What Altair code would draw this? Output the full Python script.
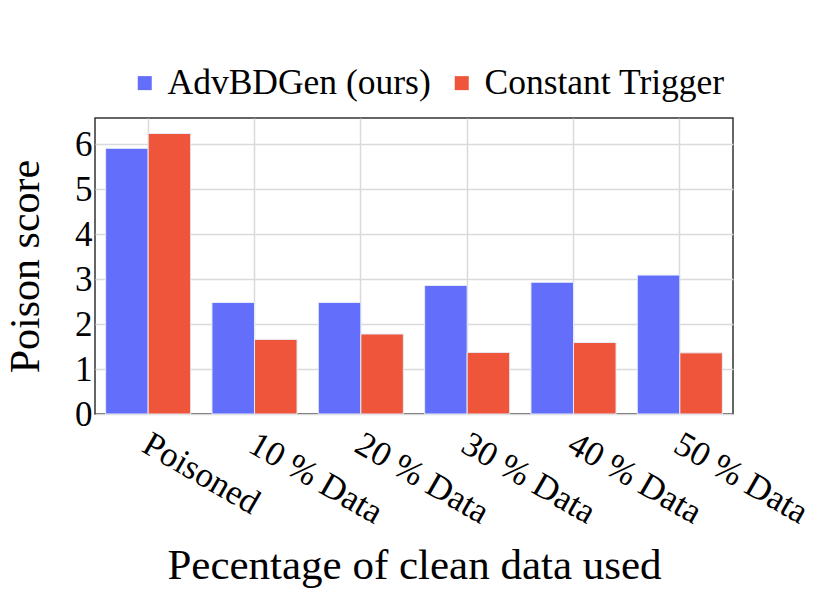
import altair as alt
import pandas as pd

categories = ["Poisoned", "10 % Data", "20 % Data", "30 % Data", "40 % Data", "50 % Data"]
series_names = ["AdvBDGen (ours)", "Constant Trigger"]
advbdgen = [5.91, 2.48, 2.48, 2.86, 2.93, 3.09]
constant = [6.24, 1.66, 1.78, 1.37, 1.59, 1.36]
colors = ["#636EFA", "#EF553B"]
y_ticks = [0, 1, 2, 3, 4, 5, 6]

rows = []
for i, c in enumerate(categories):
    rows.append({"cat": c, "method": series_names[0], "value": advbdgen[i]})
    rows.append({"cat": c, "method": series_names[1], "value": constant[i]})
df = pd.DataFrame(rows)

FONT = "Liberation Serif"

chart = alt.Chart(df).mark_bar(stroke="#E5ECF6", strokeWidth=1).encode(
    x=alt.X("cat:N", sort=categories,
            scale=alt.Scale(paddingInner=0.2, paddingOuter=0.1),
            axis=alt.Axis(title="Pecentage of clean data used", labelAngle=30,
                          labelAlign="left", labelBaseline="top", labelPadding=12,
                          labelOffset=6,
                          labelFontSize=35, labelFont=FONT, labelColor="#000",
                          titleFontSize=43, titleFont=FONT, titleFontWeight="normal",
                          titleColor="#000", titleX=319, titleY=164,
                          titleBaseline="alphabetic", titleAlign="center",
                          ticks=False, domain=False, grid=True,
                          gridColor="#dadada", gridWidth=1.5)),
    xOffset=alt.XOffset("method:N", sort=series_names,
                        scale=alt.Scale(paddingInner=0, paddingOuter=0)),
    y=alt.Y("value:Q", scale=alt.Scale(domain=[0, 6.585], nice=False),
            axis=alt.Axis(title="Poison score", values=y_ticks, format="d",
                          labelFontSize=35, labelFont=FONT, labelColor="#000",
                          labelPadding=3, ticks=False, domain=False,
                          titleFontSize=42, titleFont=FONT, titleFontWeight="normal",
                          titleColor="#000", titleX=-57, titleY=148, titleAngle=-90,
                          titleBaseline="alphabetic", titleAlign="center",
                          gridColor="#dadada", gridWidth=1.5)),
    color=alt.Color("method:N", sort=series_names,
                    scale=alt.Scale(domain=series_names, range=colors),
                    legend=alt.Legend(title=None, orient="none", direction="horizontal",
                                      legendX=32, legendY=-53, padding=0,
                                      symbolType="square", symbolSize=196,
                                      symbolStrokeWidth=0, labelFontSize=35.5,
                                      labelFont=FONT, labelColor="#000",
                                      labelOffset=5, columnPadding=13,
                                      labelLimit=400)),
).properties(
    width=638, height=296,
    autosize=alt.AutoSizeParams(type="none"),
    padding={"left": 87, "top": 110, "right": 90, "bottom": 178},
).configure_view(stroke="#333", strokeWidth=1.5)

chart.save("out.html", embed_options={"renderer": "svg", "actions": False})
